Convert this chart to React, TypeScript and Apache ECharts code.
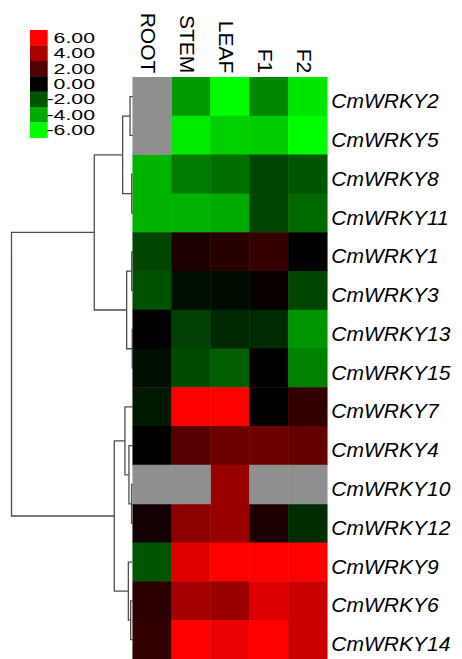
import React, { useEffect, useRef } from 'react';
import * as echarts from 'echarts';

const tissues = ['ROOT', 'STEM', 'LEAF', 'F1', 'F2'];
const genes = [
  'CmWRKY2', 'CmWRKY5', 'CmWRKY8', 'CmWRKY11', 'CmWRKY1', 'CmWRKY3', 'CmWRKY13', 'CmWRKY15',
  'CmWRKY7', 'CmWRKY4', 'CmWRKY10', 'CmWRKY12', 'CmWRKY9', 'CmWRKY6', 'CmWRKY14',
];

// log2 expression values per tissue (null = missing, drawn gray)
const ROOT = [null, null, -4.2, -4.2, -1.65, -1.9, 0.0, -0.35, -0.6, 0.0, null, 0.45, -2.0, 1.05, 1.2];
const STEM = [-3.6, -5.5, -2.9, -4.2, 0.65, -0.35, -1.5, -1.75, 6.0, 2.0, null, 3.3, 5.3, 3.9, 6.0];
const LEAF = [-6.0, -4.9, -2.6, -4.0, 0.95, -0.28, -0.95, -2.2, 6.0, 2.6, 3.65, 3.65, 6.0, 3.65, 5.5];
const F1 = [-3.2, -4.8, -1.65, -1.65, 1.3, 0.2, -1.0, 0.0, 0.0, 2.6, null, 0.65, 6.0, 5.2, 6.0];
const F2 = [-5.4, -6.0, -2.0, -2.5, 0.0, -1.65, -3.5, -3.05, 1.2, 2.35, null, -1.05, 6.0, 4.7, 4.8];
const columns = [ROOT, STEM, LEAF, F1, F2];

const legendValues = [6, 4, 2, 0, -2, -4, -6];

// hierarchical clustering merges: [childA, childB, height]; ids >= 15 are earlier merges
const linkage: [number, number, number][] = [
  [0, 1, 0.022],
  [2, 3, 0.008],
  [15, 16, 0.083],
  [4, 5, 0.008],
  [6, 7, 0.004],
  [18, 19, 0.05],
  [17, 20, 0.317],
  [10, 11, 0.009],
  [9, 22, 0.031],
  [8, 23, 0.064],
  [13, 14, 0.017],
  [12, 25, 0.036],
  [24, 26, 0.152],
  [21, 27, 1.0],
];

const scaleColors = ['#00ff00', '#000000', '#ff0000'];
const missingColor = '#8f8f8f';
const colorOf = (v: number) => echarts.color.lerp((v + 6) / 12, scaleColors);

export default function App() {
  const ref = useRef<HTMLDivElement>(null);

  useEffect(() => {
    const chart = echarts.init(ref.current!, null, { renderer: 'svg' });

    const heat: any[] = [];
    const missing: any[] = [];
    columns.forEach((col, j) => {
      col.forEach((v, i) => {
        if (v === null) missing.push([j, i, 0]);
        else heat.push([j, i, v]);
      });
    });

    const pos: number[] = genes.map((_, i) => i);
    const hgt: number[] = genes.map(() => 0);
    const dendro = linkage.map(([a, b, h]) => {
      const seg = { coords: [[hgt[a], pos[a]], [h, pos[a]], [h, pos[b]], [hgt[b], pos[b]]] };
      pos.push((pos[a] + pos[b]) / 2);
      hgt.push(h);
      return seg;
    });

    const font = 'Liberation Sans, Arial, sans-serif';
    const top = 77.3;
    const rowH = 39;
    const H = rowH * genes.length;
    const heatLeft = 132.7;

    const legendTop = 30;
    const boxH = 15.4;
    const graphic: any[] = [];
    legendValues.forEach((v, i) => {
      graphic.push({
        type: 'rect',
        shape: { x: 30, y: legendTop + i * boxH, width: 17.7, height: boxH + 0.3 },
        style: { fill: colorOf(v) },
        silent: true,
      });
      graphic.push({
        type: 'text',
        x: 95,
        y: legendTop + i * boxH + boxH / 2 + 0.5,
        scaleX: 1.52,
        style: {
          text: v.toFixed(2),
          align: 'right',
          textAlign: 'right',
          verticalAlign: 'middle',
          textVerticalAlign: 'middle',
          fontSize: 14,
          fontFamily: font,
          fill: '#000',
        },
        silent: true,
      });
    });

    chart.setOption({
      animation: false,
      backgroundColor: '#ffffff',
      grid: [
        { left: heatLeft, top, width: 194.6, height: H },
        { left: 11.5, top, width: heatLeft - 11.5, height: H },
      ],
      xAxis: [
        {
          type: 'category',
          data: tissues,
          position: 'top',
          gridIndex: 0,
          axisLine: { show: false },
          axisTick: { show: false },
          splitLine: { show: false },
          axisLabel: {
            rotate: 90,
            margin: 4,
            fontSize: 21,
            fontFamily: font,
            color: '#000',
            interval: 0,
            verticalAlign: 'top',
            lineHeight: 7,
          },
        },
        { type: 'value', gridIndex: 1, min: 0, max: 1, inverse: true, show: false },
      ],
      yAxis: [
        {
          type: 'category',
          data: genes,
          inverse: true,
          position: 'right',
          gridIndex: 0,
          axisLine: { show: false },
          axisTick: { show: false },
          splitLine: { show: false },
          axisLabel: {
            margin: 4,
            fontSize: 21,
            fontStyle: 'italic',
            fontFamily: font,
            color: '#000',
            interval: 0,
            verticalAlign: 'top',
            lineHeight: 8,
          },
        },
        { type: 'value', gridIndex: 1, min: -0.5, max: genes.length - 0.5, inverse: true, show: false },
      ],
      visualMap: [
        {
          type: 'continuous',
          show: false,
          min: -6,
          max: 6,
          dimension: 2,
          seriesIndex: 0,
          inRange: { color: scaleColors },
        },
        {
          type: 'continuous',
          show: false,
          min: 0,
          max: 1,
          dimension: 2,
          seriesIndex: 1,
          inRange: { color: [missingColor, missingColor] },
        },
      ],
      graphic,
      series: [
        {
          type: 'heatmap',
          xAxisIndex: 0,
          yAxisIndex: 0,
          data: heat,
          silent: true,
        },
        {
          type: 'heatmap',
          xAxisIndex: 0,
          yAxisIndex: 0,
          data: missing,
          silent: true,
        },
        {
          type: 'lines',
          coordinateSystem: 'cartesian2d',
          xAxisIndex: 1,
          yAxisIndex: 1,
          polyline: true,
          silent: true,
          data: dendro,
          lineStyle: { color: '#4d4d4d', width: 1.3, opacity: 1 },
        },
      ],
    });

    return () => chart.dispose();
  }, []);

  return (
    <div
      ref={ref}
      style={{ position: 'fixed', left: 0, top: 0, width: 462, height: 659, background: '#fff' }}
    />
  );
}
